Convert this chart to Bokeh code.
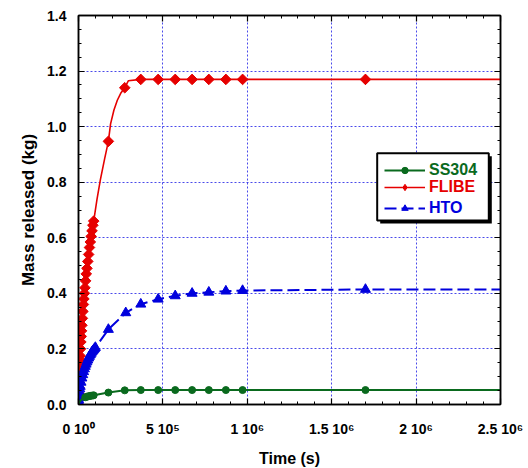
from bokeh.plotting import figure
from bokeh.models import (Range1d, FixedTicker, LinearAxis, Legend, LegendItem,
                          BoxAnnotation, CustomJSTickFormatter, NumeralTickFormatter)
from bokeh.embed import file_html
from bokeh.resources import INLINE
import numpy as np

# ---------------- data ----------------
x_ticks = [0, 500000, 1000000, 1500000, 2000000, 2500000]
x_tick_labels = ["0 10\u2070", "5 10\u2075", "1 10\u2076", "1.5 10\u2076", "2 10\u2076", "2.5 10\u2076"]
y_ticks = [0.0, 0.2, 0.4, 0.6, 0.8, 1.0, 1.2, 1.4]

series_names = ["SS304", "FLIBE", "HTO"]

# FLIBE (red, diamonds)
t_flibe = [1, 1000, 2000, 3000, 4000, 5000, 6000, 7000, 8000, 9000, 10000, 12000, 14000,
           16000, 18000, 20000, 23000, 26000, 29000, 32000, 35000, 38000, 42000, 46000,
           50000, 55000, 60000, 65000, 70000, 75000, 80000, 85000, 90000,
           110000, 130000, 155000, 177000, 190000, 210000, 230000, 250000, 274000,
           295000, 369000, 472000, 573000, 673000, 772000, 873000, 972000, 1700000, 2500000]
m_flibe = [0.0, 0.02, 0.04, 0.06, 0.08, 0.10, 0.115, 0.13, 0.145, 0.16, 0.175, 0.20, 0.225,
           0.245, 0.265, 0.285, 0.31, 0.335, 0.36, 0.38, 0.40, 0.42, 0.445, 0.47,
           0.49, 0.515, 0.54, 0.565, 0.585, 0.605, 0.625, 0.645, 0.66,
           0.74, 0.81, 0.885, 0.947, 1.01, 1.06, 1.095, 1.12, 1.14,
           1.165, 1.17, 1.17, 1.17, 1.17, 1.17, 1.17, 1.17, 1.17, 1.17]
tm_flibe = [1, 1000, 2000, 3000, 4000, 5000, 6000, 7000, 8000, 9000, 10000, 12000, 14000,
            16000, 18000, 20000, 23000, 26000, 29000, 32000, 35000, 38000, 42000, 46000,
            50000, 55000, 60000, 65000, 70000, 75000, 80000, 85000, 90000,
            177000, 274000, 369000, 472000, 573000, 673000, 772000, 873000, 972000, 1700000]
mm_flibe = [0.0, 0.02, 0.04, 0.06, 0.08, 0.10, 0.115, 0.13, 0.145, 0.16, 0.175, 0.20, 0.225,
            0.245, 0.265, 0.285, 0.31, 0.335, 0.36, 0.38, 0.40, 0.42, 0.445, 0.47,
            0.49, 0.515, 0.54, 0.565, 0.585, 0.605, 0.625, 0.645, 0.66,
            0.947, 1.14, 1.17, 1.17, 1.17, 1.17, 1.17, 1.17, 1.17, 1.17]

# HTO (blue, triangles, dashed)
t_hto = [1, 500, 1000, 2000, 3500, 5000, 7500, 10000, 15000, 20000, 25000, 30000, 35000,
         40000, 45000, 50000, 55000, 60000, 65000, 70000, 75000, 80000, 85000, 90000,
         95000, 100000,
         177000, 280000, 369000, 472000, 573000, 673000, 772000, 873000, 972000, 1700000, 2500000]
m_hto = [0.0, 0.01, 0.017, 0.025, 0.036, 0.045, 0.056, 0.065, 0.08, 0.095, 0.107, 0.118, 0.128,
         0.137, 0.145, 0.153, 0.16, 0.167, 0.173, 0.179, 0.184, 0.189, 0.193, 0.197,
         0.201, 0.205,
         0.27, 0.33, 0.361, 0.379, 0.391, 0.40, 0.404, 0.408, 0.41, 0.414, 0.414]
tm_hto = t_hto[:-1]
mm_hto = m_hto[:-1]

# SS304 (green, circles)
t_ss = [1, 5000, 10000, 20000, 30000, 40000, 50000, 60000, 70000, 80000, 90000,
        177000, 274000, 369000, 472000, 573000, 673000, 772000, 873000, 972000, 1700000, 2500000]
m_ss = [0.0, 0.008, 0.013, 0.019, 0.023, 0.026, 0.028, 0.030, 0.031, 0.032, 0.033,
        0.043, 0.051, 0.052, 0.052, 0.052, 0.052, 0.052, 0.052, 0.052, 0.052, 0.052]
tm_ss = [40000, 50000, 60000, 70000, 80000, 90000,
         177000, 274000, 369000, 472000, 573000, 673000, 772000, 873000, 972000, 1700000]
mm_ss = [0.026, 0.028, 0.030, 0.031, 0.032, 0.033,
         0.043, 0.051, 0.052, 0.052, 0.052, 0.052, 0.052, 0.052, 0.052, 0.052]

GREEN = "#0a6a1e"
RED = "#e60000"
BLUE = "#0000dd"
FONT = "Liberation Sans"

# ---------------- figure ----------------
p = figure(frame_width=422, frame_height=389, output_backend="svg", toolbar_location=None,
           x_range=Range1d(0, 2500000), y_range=Range1d(0, 1.4),
           min_border_left=78, min_border_right=28, min_border_top=15, min_border_bottom=64,
           background_fill_color="white", border_fill_color="white")
p.outline_line_color = "black"
p.outline_line_width = 1.5

xticker = FixedTicker(ticks=x_ticks, minor_ticks=list(np.arange(0, 2500001, 100000)))
yticker = FixedTicker(ticks=y_ticks, minor_ticks=list(np.round(np.arange(0, 1.4001, 0.05), 3)))

xfmt = CustomJSTickFormatter(args=dict(xt=x_ticks, xl=x_tick_labels), code="""
const i = xt.findIndex(t => Math.abs(t - tick) < 1);
return i >= 0 ? xl[i] : '';
""")

def style_axis(ax):
    ax.axis_line_color = "black"
    ax.axis_line_width = 1.5
    ax.major_tick_in = 6
    ax.major_tick_out = 0
    ax.minor_tick_in = 3
    ax.minor_tick_out = 0
    ax.major_tick_line_color = "black"
    ax.minor_tick_line_color = "black"
    ax.major_tick_line_width = 1.2
    ax.minor_tick_line_width = 1
    ax.major_label_text_font = FONT
    ax.major_label_text_font_style = "bold"
    ax.major_label_text_font_size = "14px"
    ax.major_label_text_color = "black"
    ax.axis_label_text_font = FONT
    ax.axis_label_text_font_style = "bold"
    ax.axis_label_text_color = "black"

xa = p.xaxis[0]
xa.ticker = xticker
xa.formatter = xfmt
style_axis(xa)
xa.major_label_standoff = 16
xa.axis_label = "Time (s)"
xa.axis_label_text_font_size = "16px"
xa.axis_label_standoff = 10

ya = p.yaxis[0]
ya.ticker = yticker
ya.formatter = NumeralTickFormatter(format="0.0")
style_axis(ya)
ya.major_label_standoff = 12
ya.axis_label = "Mass released (kg)"
ya.axis_label_text_font_size = "17px"
ya.axis_label_standoff = 6

blank = CustomJSTickFormatter(code="return '';")
for place, tk in (("right", yticker), ("above", xticker)):
    ax = LinearAxis(ticker=tk, formatter=blank)
    style_axis(ax)
    ax.major_label_text_font_size = "0px"
    ax.major_label_standoff = 0
    p.add_layout(ax, place)

for g, tk in ((p.xgrid[0], xticker), (p.ygrid[0], yticker)):
    g.ticker = tk
    g.grid_line_color = "#2a2ae6"
    g.grid_line_alpha = 0.85
    g.grid_line_dash = "2 2"
    g.grid_line_width = 1

# ---------------- data renderers ----------------
r_fl_line = p.line(t_flibe, m_flibe, line_color=RED, line_width=1.6)
r_fl_mark = p.scatter(tm_flibe, mm_flibe, marker="square", size=7.5, angle=np.pi / 4,
                      fill_color=RED, line_color=RED)
# diamond glyph on the last FLIBE marker, used for the legend sample
r_fl_leg = p.scatter(tm_flibe[-1:], mm_flibe[-1:], marker="diamond", size=10,
                     fill_color=RED, line_color=RED)
r_hto_line = p.line(t_hto, m_hto, line_color=BLUE, line_width=2, line_dash="12 5")
r_hto_mark = p.scatter(tm_hto, mm_hto, marker="triangle", size=10,
                       fill_color=BLUE, line_color=BLUE)
r_ss_line = p.line(t_ss, m_ss, line_color=GREEN, line_width=2)
r_ss_mark = p.scatter(tm_ss, mm_ss, marker="circle", size=7,
                      fill_color=GREEN, line_color=GREEN)

# ---------------- legend box (frame with shadow) ----------------
p.add_layout(BoxAnnotation(left=1787300, right=2448400, top=0.8936, bottom=0.6514,
                           fill_color="black", fill_alpha=1, line_color=None))
p.add_layout(BoxAnnotation(left=1769500, right=2430600, top=0.9044, bottom=0.6622,
                           fill_color="white", fill_alpha=1, line_color="black",
                           line_width=2, line_alpha=1))

def add_leg(label, renderers, color, vy):
    leg = Legend(items=[LegendItem(label=label, renderers=renderers)],
                 location=(306, vy), padding=0, margin=0, spacing=0,
                 border_line_color=None, background_fill_alpha=0,
                 glyph_width=41, glyph_height=16, label_height=16, label_standoff=4,
                 label_text_font=FONT, label_text_font_style="bold",
                 label_text_font_size="16px", label_text_color=color)
    p.add_layout(leg, "center")

add_leg(series_names[0], [r_ss_line, r_ss_mark], GREEN, 225)
add_leg(series_names[1], [r_fl_line, r_fl_leg], RED, 208)
add_leg(series_names[2], [r_hto_line, r_hto_mark], BLUE, 187)

open("out.html", "w").write(file_html(p, INLINE))
